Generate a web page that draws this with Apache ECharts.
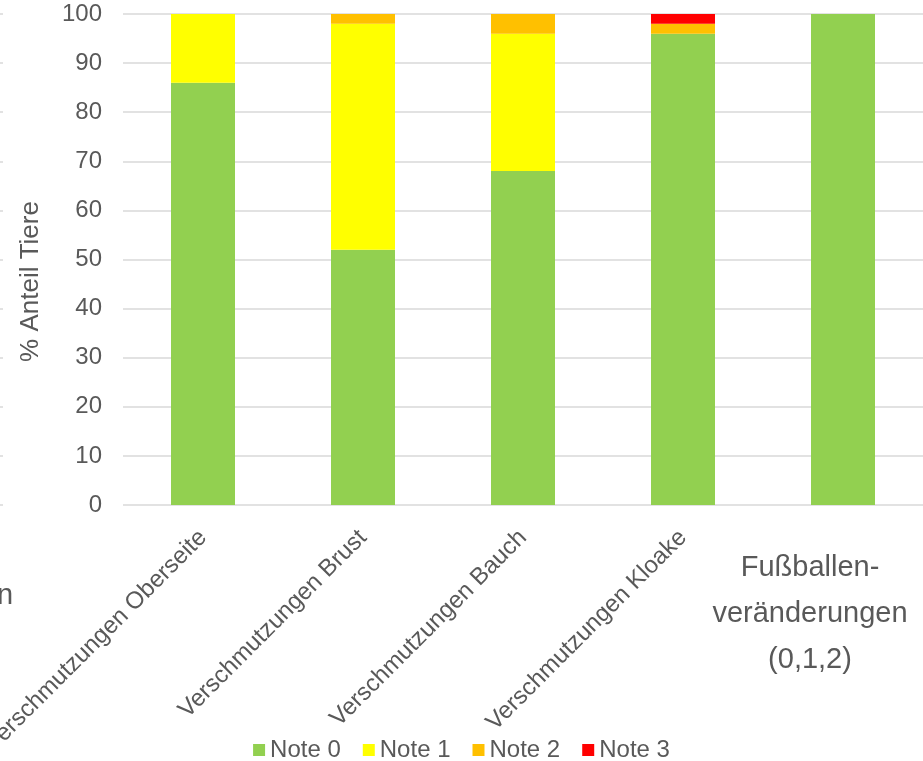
<!DOCTYPE html>
<html>
<head>
<meta charset="utf-8">
<script src="https://cdn.jsdelivr.net/npm/echarts@6/dist/echarts.min.js"></script>
<style>
  html, body { margin: 0; padding: 0; background: #fff; }
  #chart { width: 923px; height: 761px; }
</style>
</head>
<body>
<div id="chart"></div>
<script>
var categories = ['Verschmutzungen Oberseite', 'Verschmutzungen Brust', 'Verschmutzungen Bauch', 'Verschmutzungen Kloake', 'Fußballen-\nveränderungen\n(0,1,2)'];
var note0 = [86, 52, 68, 96, 100];
var note1 = [14, 46, 28, 0, 0];
var note2 = [0, 2, 4, 2, 0];
var note3 = [0, 0, 0, 2, 0];
var seriesNames = ['Note 0', 'Note 1', 'Note 2', 'Note 3'];

var chartDom = document.getElementById('chart');
var myChart = echarts.init(chartDom);

var font = "'Liberation Sans', Arial, sans-serif";
var textColor = '#595959';
var gridColor = '#D9D9D9';

function barSeries(name, data) {
    return {
        name: name,
        type: 'bar',
        stack: 'total',
        barWidth: 64,
        data: data,
        emphasis: { disabled: true }
    };
}

var option = {
    animation: false,
    textStyle: { fontFamily: font },
    color: ['#92D050', '#FFFF00', '#FFC000', '#FF0000'],
    legend: {
        data: seriesNames,
        top: 733,
        left: 'center',
        itemWidth: 12,
        itemHeight: 12,
        itemGap: 22,
        icon: 'rect',
        textStyle: { color: textColor, fontSize: 24, fontFamily: font }
    },
    grid: [
        { left: 123, right: 0, top: 14, height: 491, outerBoundsMode: 'none' },
        // cut-off neighbouring chart at the left edge
        { left: -60, width: 63, top: 14, height: 491, outerBoundsMode: 'none' }
    ],
    xAxis: [
        {
            type: 'category',
            data: categories,
            gridIndex: 0,
            axisLine: { show: false },
            axisTick: { show: false },
            axisLabel: {
                color: textColor,
                fontSize: 24,
                fontFamily: font,
                rotate: 45,
                margin: 29,
                interval: 0,
                formatter: function (v, i) { return i < 4 ? v : ''; }
            }
        },
        {
            type: 'category',
            data: categories,
            gridIndex: 0,
            position: 'bottom',
            axisLine: { show: false },
            axisTick: { show: false },
            axisLabel: {
                color: textColor,
                fontSize: 29,
                fontFamily: font,
                interval: 0,
                margin: 40,
                lineHeight: 46,
                align: 'center',
                padding: [0, 66, 0, 0],
                formatter: function (v, i) { return i === 4 ? v : ''; }
            }
        },
        {
            type: 'category',
            data: [''],
            gridIndex: 1,
            axisLine: { show: false },
            axisTick: { show: false },
            axisLabel: { show: false }
        }
    ],
    yAxis: [
        {
            type: 'value',
            gridIndex: 0,
            min: 0,
            max: 100,
            interval: 10,
            name: '% Anteil Tiere',
            nameLocation: 'middle',
            nameGap: 79,
            nameTextStyle: { color: textColor, fontSize: 26, fontFamily: font, padding: [0, 44, 0, 0] },
            axisLine: { show: false },
            axisTick: { show: false },
            axisLabel: { color: textColor, fontSize: 24, fontFamily: font, margin: 21 },
            splitLine: { lineStyle: { color: gridColor, width: 1.5 } }
        },
        {
            type: 'value',
            gridIndex: 1,
            min: 0,
            max: 100,
            interval: 10,
            axisLine: { show: false },
            axisTick: { show: false },
            axisLabel: { show: false },
            splitLine: { lineStyle: { color: gridColor, width: 1.5 } }
        }
    ],
    graphic: [
        {
            type: 'text',
            left: -3,
            top: 581,
            style: { text: 'n', fontSize: 29, fontFamily: font, fill: textColor }
        }
    ],
    series: [
        barSeries(seriesNames[0], note0),
        barSeries(seriesNames[1], note1),
        barSeries(seriesNames[2], note2),
        barSeries(seriesNames[3], note3)
    ]
};

myChart.setOption(option);
</script>
</body>
</html>
